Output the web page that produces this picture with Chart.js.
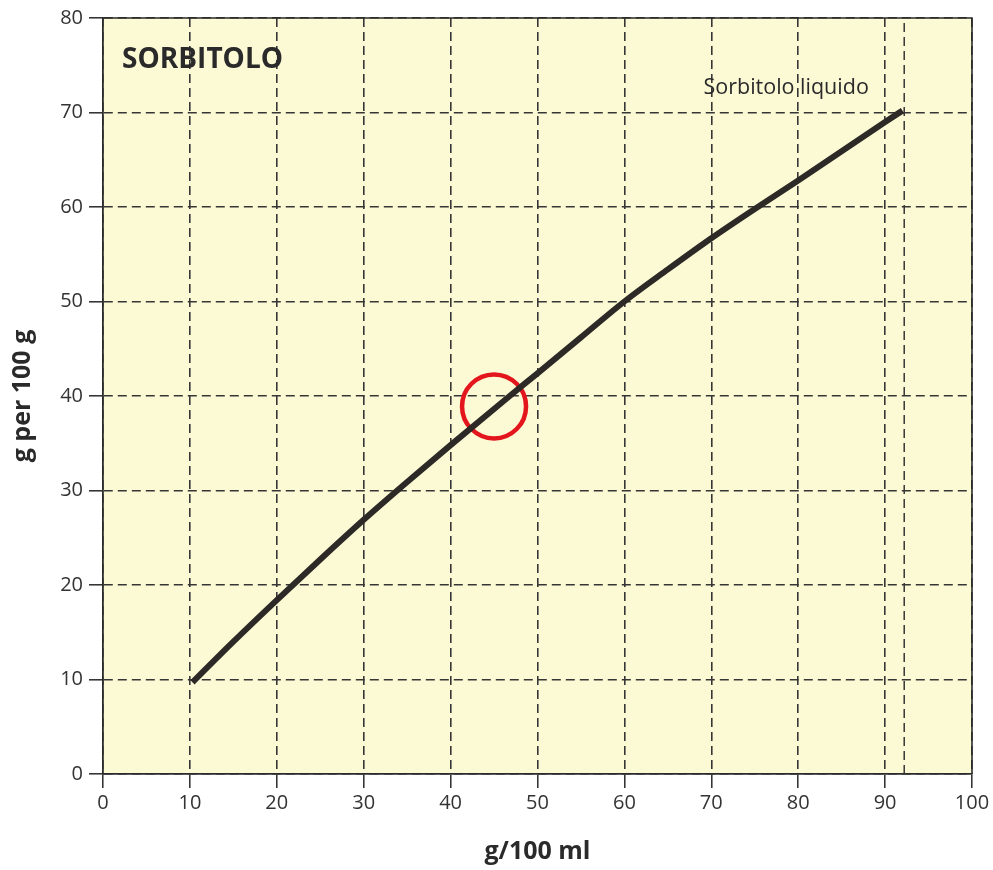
<!DOCTYPE html>
<html>
<head>
<meta charset="utf-8">
<script src="https://cdn.jsdelivr.net/npm/chart.js@4/dist/chart.umd.min.js"></script>
<style>
  html, body { margin: 0; padding: 0; background: #ffffff; }
  #wrap { width: 993px; height: 870px; position: relative; }
</style>
</head>
<body>
<div id="wrap"><canvas id="c"></canvas></div>
<script>
// ---- data ----
const sorbX = [10.3, 15, 20, 25, 30, 35, 40, 46.8, 50, 55, 60, 65, 70, 75, 80, 85, 90, 92];
const sorbY = [9.7, 14.0, 18.4, 22.7, 26.9, 30.9, 34.8, 40, 42.4, 46.2, 50, 53.4, 56.7, 59.8, 62.8, 65.9, 69.0, 70.2];
const markerX = [92.2, 92.2];
const markerY = [0, 80];
const circleX = [45.0];
const circleY = [38.9];
const xTicks = [0, 10, 20, 30, 40, 50, 60, 70, 80, 90, 100];
const yTicks = [0, 10, 20, 30, 40, 50, 60, 70, 80];
const chartTitle = 'SORBITOLO';
const seriesLabel = 'Sorbitolo liquido';
const xTitle = 'g/100 ml';
const yTitle = 'g per 100 g';

const pts = (xs, ys) => xs.map((x, i) => ({ x: x, y: ys[i] }));

const AXIS = '#2b2b2b';
const GRID = '#363636';
const TXT = '#333333';
const FONT = "'Open Sans', 'Noto Sans', sans-serif";

const decor = {
  id: 'decor',
  beforeDraw(chart) {
    const { ctx, chartArea: a } = chart;
    ctx.save();
    ctx.fillStyle = '#fcfad4';
    ctx.fillRect(a.left, a.top, a.right - a.left, a.bottom - a.top);
    ctx.restore();
  },
  afterDraw(chart) {
    const { ctx, chartArea: a, scales } = chart;
    ctx.save();
    ctx.strokeStyle = AXIS;
    ctx.lineWidth = 1.6;
    ctx.beginPath();
    ctx.moveTo(a.left, a.top);
    ctx.lineTo(a.right, a.top);
    ctx.lineTo(a.right, a.bottom);
    ctx.stroke();
    // labels placed in data coordinates
    ctx.fillStyle = '#2a2a2a';
    ctx.textBaseline = 'middle';
    ctx.textAlign = 'left';
    ctx.font = "bold 28px " + FONT;
    ctx.fillText(chartTitle, scales.x.getPixelForValue(2.2), scales.y.getPixelForValue(75.6));
    ctx.font = "21.5px " + FONT;
    ctx.fillText(seriesLabel, scales.x.getPixelForValue(69.1), scales.y.getPixelForValue(72.6));
    ctx.restore();
  }
};

new Chart(document.getElementById('c'), {
  type: 'line',
  data: {
    datasets: [
      {
        label: seriesLabel,
        data: pts(sorbX, sorbY),
        borderColor: '#2d2926',
        borderWidth: 6,
        borderCapStyle: 'butt',
        borderJoinStyle: 'round',
        pointRadius: 0,
        cubicInterpolationMode: 'monotone',
        fill: false,
        order: 0
      },
      {
        label: 'marker',
        data: pts(markerX, markerY),
        borderColor: GRID,
        borderWidth: 1.5,
        borderDash: [9, 5],
        pointRadius: 0,
        fill: false,
        order: 2
      },
      {
        type: 'scatter',
        label: 'circle',
        data: pts(circleX, circleY),
        pointRadius: 32,
        pointBorderWidth: 4.5,
        pointBorderColor: '#e4161d',
        pointBackgroundColor: 'rgba(0,0,0,0)',
        pointHoverRadius: 32,
        order: 1
      }
    ]
  },
  options: {
    responsive: true,
    maintainAspectRatio: false,
    animation: false,
    layout: { autoPadding: false, padding: { left: 0, right: 21, top: 18, bottom: 0 } },
    plugins: { legend: { display: false }, tooltip: { enabled: false } },
    scales: {
      x: {
        type: 'linear',
        min: 0, max: 100,
        afterBuildTicks: s => { s.ticks = xTicks.map(v => ({ value: v })); },
        afterFit: s => { s.height = 96; },
        ticks: { color: TXT, font: { family: FONT, size: 20 }, padding: 3, maxRotation: 0 },
        grid: { color: GRID, lineWidth: 1.6, drawTicks: true, tickLength: 14, tickColor: AXIS, tickWidth: 1.5, tickBorderDash: [] },
        border: { display: true, color: AXIS, width: 1.8, dash: [9, 5] },
        title: { display: true, text: xTitle, color: '#2a2a2a', font: { family: FONT, size: 25, weight: 'bold' }, padding: { top: 0, bottom: 3 } }
      },
      y: {
        type: 'linear',
        min: 0, max: 80,
        afterBuildTicks: s => { s.ticks = yTicks.map(v => ({ value: v })); },
        afterFit: s => { s.width = 103; },
        ticks: { color: TXT, font: { family: FONT, size: 20 }, padding: 6 },
        grid: { color: GRID, lineWidth: 1.6, drawTicks: true, tickLength: 14, tickColor: AXIS, tickWidth: 1.5, tickBorderDash: [] },
        border: { display: true, color: AXIS, width: 1.8, dash: [9, 5] },
        title: { display: true, text: yTitle, color: '#2a2a2a', font: { family: FONT, size: 25, weight: 'bold' }, padding: { top: 8, bottom: 0 } }
      }
    }
  },
  plugins: [decor]
});
</script>
</body>
</html>
